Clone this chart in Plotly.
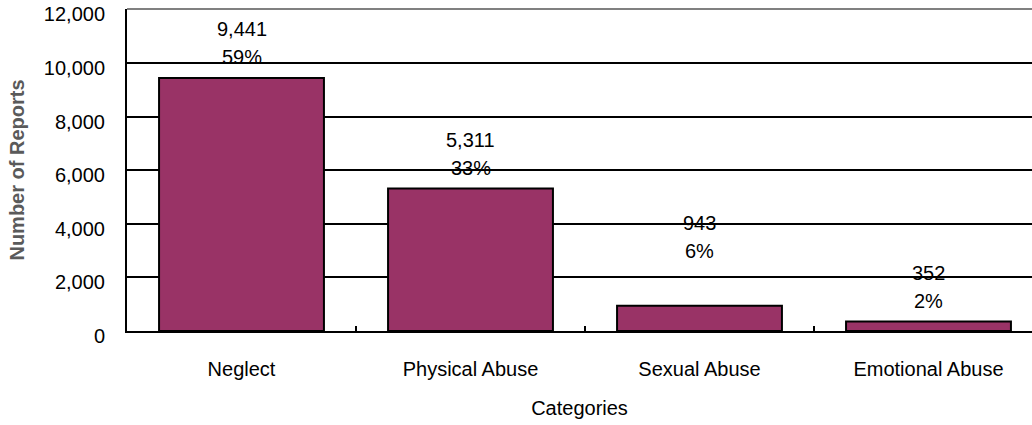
import plotly.graph_objects as go

categories = ["Neglect", "Physical Abuse", "Sexual Abuse", "Emotional Abuse"]
reports = [9441, 5311, 943, 352]
label_extra_shift = [0, 0, 34, 0]  # Sexual Abuse label was moved up in the original
y_ticks = [0, 2000, 4000, 6000, 8000, 10000, 12000]

total = sum(reports)
FONT = "Liberation Sans, Arial, sans-serif"

fig = go.Figure()
fig.add_trace(go.Bar(
    x=categories, y=reports, width=0.72,
    marker=dict(color="#993366", line=dict(color="black", width=2)),
    hoverinfo="skip",
))

for i, (c, v) in enumerate(zip(categories, reports)):
    pct = round(100 * v / total)
    fig.add_annotation(x=c, y=v, xref="x", yref="y", text=f"{v:,}", showarrow=False,
                       yanchor="middle", yshift=49 + label_extra_shift[i],
                       font=dict(size=20, color="black", family=FONT))
    fig.add_annotation(x=c, y=v, xref="x", yref="y", text=f"{pct}%", showarrow=False,
                       yanchor="middle", yshift=21 + label_extra_shift[i],
                       font=dict(size=20, color="black", family=FONT))

fig.add_shape(type="line", xref="paper", yref="paper", x0=0, x1=1, y0=1, y1=1,
              line=dict(color="#808080", width=2))

fig.update_layout(
    width=1032, height=425,
    margin=dict(l=127, r=0, t=9, b=94),
    plot_bgcolor="white", paper_bgcolor="white",
    showlegend=False,
    font=dict(family=FONT, size=20, color="black"),
    xaxis=dict(
        range=[-0.5, 3.452], showline=True, linecolor="black", linewidth=2,
        ticks="inside", tickson="boundaries", ticklen=5, tickwidth=2, tickcolor="black",
        showgrid=False, ticklabelstandoff=19, automargin=False,
        title=dict(text="Categories", font=dict(size=20), standoff=22),
        tickfont=dict(size=20),
    ),
    yaxis=dict(
        range=[0, 12010], tickvals=y_ticks, tickformat=",d",
        showline=True, linecolor="black", linewidth=2, automargin=False,
        showgrid=True, gridcolor="black", gridwidth=2, zeroline=False,
        ticks="", ticklabelstandoff=16, tickfont=dict(size=20, color="black"),
        ticklabelshift=5, ticklabeloverflow="allow",
        title=dict(text="<b>Number of Reports</b>", font=dict(size=20, color="#5a5a5a"), standoff=14),
    ),
)

fig.write_html("out.html", config={"displayModeBar": False},
               post_script="document.body.style.margin='0';")
